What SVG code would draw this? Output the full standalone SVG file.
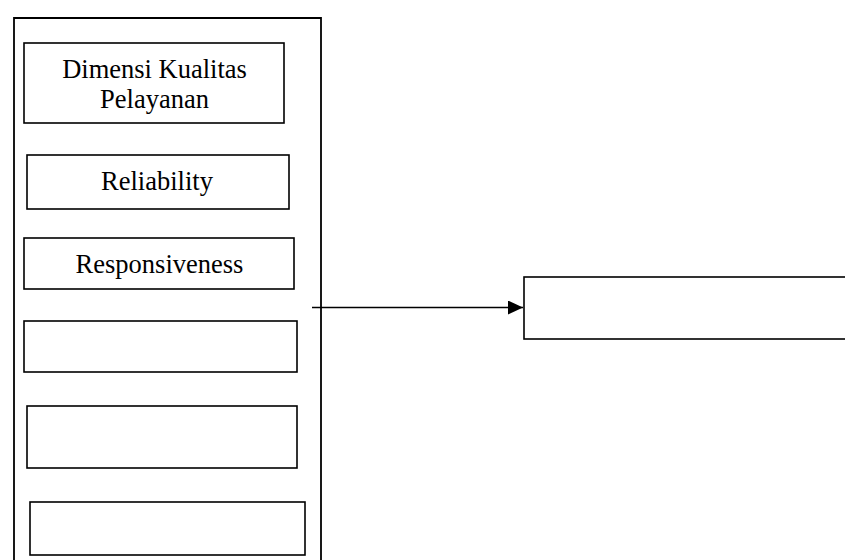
<svg xmlns="http://www.w3.org/2000/svg" width="845" height="560" viewBox="0 0 845 560">
  <style>
    .box { fill: #ffffff; stroke: #000000; stroke-width: 1.6; }
    .outer { fill: none; stroke: #000000; stroke-width: 1.8; }
    .label { font-family: "Liberation Serif", "Times New Roman", serif; font-size: 26.5px; fill: #000000; text-anchor: middle; }
    .conn { stroke: #000000; stroke-width: 1.5; fill: none; }
  </style>
  <defs>
    <marker id="arrow" markerUnits="userSpaceOnUse" markerWidth="16" markerHeight="16" refX="15" refY="7" orient="auto">
      <path d="M0,0 L15,7 L0,14 Z" fill="#000000"/>
    </marker>
  </defs>
  <rect width="845" height="560" fill="#ffffff"/>

  <g id="container">
    <path class="outer" d="M14,570 L14,18 L321,18 L321,570"/>
  </g>

  <g id="node-dimensi">
    <rect class="box" x="24" y="43" width="260" height="80"/>
    <text class="label" x="154.5" y="78">Dimensi Kualitas</text>
    <text class="label" x="154.5" y="108">Pelayanan</text>
  </g>

  <g id="node-reliability">
    <rect class="box" x="27" y="155" width="262" height="54"/>
    <text class="label" x="157" y="190">Reliability</text>
  </g>

  <g id="node-responsiveness">
    <rect class="box" x="24" y="238" width="270" height="51"/>
    <text class="label" x="159.5" y="273">Responsiveness</text>
  </g>

  <g id="node-empty1">
    <rect class="box" x="24" y="321" width="273" height="51"/>
  </g>

  <g id="node-empty2">
    <rect class="box" x="27" y="406" width="270" height="62"/>
  </g>

  <g id="node-empty3">
    <rect class="box" x="30" y="502" width="275" height="53"/>
  </g>

  <g id="node-target">
    <rect class="box" x="524" y="277" width="340" height="62"/>
  </g>

  <g id="connectors">
    <line class="conn" x1="312" y1="307.5" x2="523" y2="307.5" marker-end="url(#arrow)"/>
  </g>
</svg>
